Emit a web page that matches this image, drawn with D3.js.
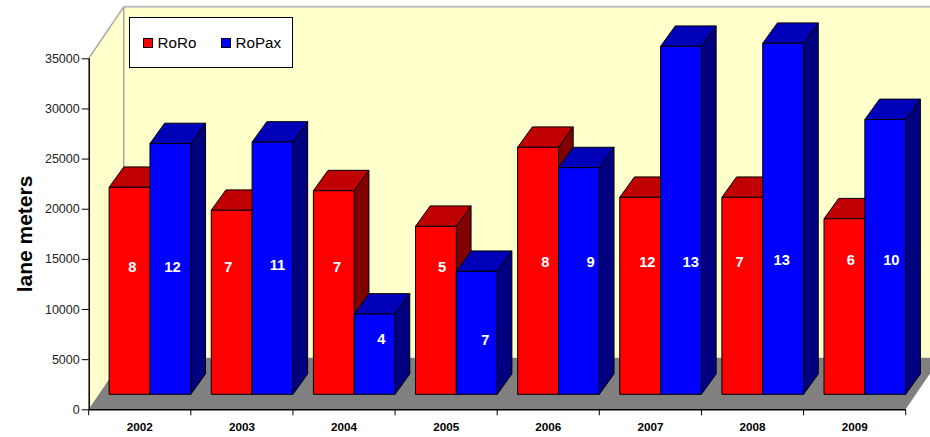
<!DOCTYPE html>
<html>
<head>
<meta charset="utf-8">
<script src="https://cdn.jsdelivr.net/npm/d3@7/dist/d3.min.js"></script>
<style>
html,body{margin:0;padding:0;background:#fff;overflow:hidden}
text{font-family:"Liberation Sans",Arial,sans-serif}
</style>
</head>
<body>
<svg id="chart" width="930" height="437"></svg>
<script>
const years = ["2002","2003","2004","2005","2006","2007","2008","2009"];
const seriesNames = ["RoRo","RoPax"];
const roroLength = [20640,18350,20300,16750,24630,19640,19640,17500];
const ropaxLength = [25000,25150,8000,12260,22600,34700,35000,27400];
const roroShips = [8,7,7,5,8,12,7,6];
const ropaxShips = [12,11,4,7,9,13,13,10];
// Heights at which the ship counts sit, in lane meters above the bar base
const roroCountLevel = [12763,12693,12763,12763,13192,13192,13192,13461];
const ropaxCountLevel = [12763,12892,5514,5484,13192,13192,13431,13461];
// Sideways nudges of the ship counts, as hand-placed in the drawing (px)
const roroCountNudge = [2.85,-3.3,3.2,6.1,7.35,7.2,-2.6,6.3];
const ropaxCountNudge = [2,4.9,6.75,8.6,11.8,9.7,-1.45,6.1];
const yTicks = [0,5000,10000,15000,20000,25000,30000,35000];

const frontFace = {RoRo:"#ff0000", RoPax:"#0000ff"};
const topFace = {RoRo:"#c00000", RoPax:"#0000b8"};
const sideFace = {RoRo:"#800000", RoPax:"#000080"};

const svg = d3.select("#chart");

const y = d3.scaleLinear().domain([0,35000]).range([409.3,58.3]);
const x = d3.scaleBand().domain(years).range([88.7,905.7]);
const inner = d3.scaleBand().domain(seriesNames)
  .range([x.bandwidth()*0.2, x.bandwidth()]);

// Oblique projection: wall depth and the shallower depth of the bar row
const wallDepth = {dx:35, dy:-51.5};
const barInset = {dx:0, dy:-15};
const barDepth = {dx:14.7, dy:-20.4};
const poly = pts => pts.map(p => p.join(",")).join(" ");

const x0 = x.range()[0], x1 = x.range()[1];
const yBase = y(0), yTop = y(35000);

// Back wall, side wall and floor
svg.append("polygon").attr("fill","#ffffcc")
  .attr("points", poly([[x0,yBase],[x0,yTop],[x0+wallDepth.dx,yTop+wallDepth.dy],
    [960,yTop+wallDepth.dy],[960,yBase+wallDepth.dy],[x0+wallDepth.dx,yBase+wallDepth.dy]]));
svg.append("polygon").attr("fill","#808080")
  .attr("points", poly([[x0,yBase],[x0+wallDepth.dx,yBase+wallDepth.dy],
    [x1+wallDepth.dx,yBase+wallDepth.dy],[x1,yBase]]));
svg.append("path").attr("fill","none").attr("stroke","#a6a6a6").attr("stroke-width",1.5)
  .attr("d", `M${x0},${yTop}L${x0+wallDepth.dx},${yTop+wallDepth.dy}`);
svg.append("path").attr("fill","none").attr("stroke","#bdbdbd").attr("stroke-width",2)
  .attr("d", `M${x0+wallDepth.dx},${yTop+wallDepth.dy}H930`);
svg.append("path").attr("fill","none").attr("stroke","#a6a6a6").attr("stroke-width",1.5)
  .attr("d", `M${x0+wallDepth.dx},${yTop+wallDepth.dy}V${yBase+wallDepth.dy}`);

// Bars, drawn left to right so that each one overlaps the previous side face
const records = years.flatMap((year,i) => [
  {year, name:"RoRo", value:roroLength[i], ships:roroShips[i], level:roroCountLevel[i], nudge:roroCountNudge[i]},
  {year, name:"RoPax", value:ropaxLength[i], ships:ropaxShips[i], level:ropaxCountLevel[i], nudge:ropaxCountNudge[i]}
]);
const base = yBase + barInset.dy;
const barTop = d => base - (yBase - y(d.value));
const bar = svg.append("g").selectAll("g").data(records).join("g")
  .attr("stroke","#000").attr("stroke-width",1).attr("stroke-linejoin","round");
const left = d => x(d.year) + inner(d.name);
const right = d => left(d) + inner.bandwidth();
bar.append("polygon").attr("fill",d => sideFace[d.name])
  .attr("points", d => poly([[right(d),base],[right(d),barTop(d)],
    [right(d)+barDepth.dx,barTop(d)+barDepth.dy],[right(d)+barDepth.dx,base+barDepth.dy]]));
bar.append("polygon").attr("fill",d => topFace[d.name])
  .attr("points", d => poly([[left(d),barTop(d)],[left(d)+barDepth.dx,barTop(d)+barDepth.dy],
    [right(d)+barDepth.dx,barTop(d)+barDepth.dy],[right(d),barTop(d)]]));
bar.append("rect").attr("fill",d => frontFace[d.name])
  .attr("x",left).attr("y",barTop)
  .attr("width",inner.bandwidth()).attr("height",d => base - barTop(d));

// Ship counts on the bar fronts
svg.append("g").selectAll("text").data(records).join("text")
  .attr("x",d => left(d) + inner.bandwidth()/2 + d.nudge)
  .attr("y",d => base - (yBase - y(d.level)))
  .attr("dy","0.36em").attr("text-anchor","middle")
  .attr("fill","#fff").attr("font-size",14.7).attr("font-weight","bold")
  .text(d => d.ships);

// Axes along the front edge of the floor
const yAxis = svg.append("g").attr("transform",`translate(${x0},0)`)
  .call(d3.axisLeft(y).tickValues(yTicks).tickSize(7).tickPadding(2).tickFormat(d3.format("d")));
yAxis.selectAll("text").attr("font-size",12.5).attr("fill","#222").style("font-family","'Liberation Sans',Arial,sans-serif");
yAxis.select(".domain").attr("d",`M0.5,${yTop}V${yBase}`).attr("stroke","#000").attr("stroke-width",1.5);

const xAxis = svg.append("g").attr("transform",`translate(0,${yBase})`)
  .call(d3.axisBottom(x).tickSize(0).tickPadding(13));
xAxis.selectAll("text").attr("font-size",11.7).attr("font-weight","bold").attr("fill","#000")
  .style("font-family","'Liberation Sans',Arial,sans-serif");
xAxis.select(".domain").attr("d",`M${x0},0.5H${x1}`).attr("stroke","#000").attr("stroke-width",1.5);
xAxis.selectAll(".edge").data(x.domain().map(d => x(d)).concat(x1)).join("line")
  .attr("class","edge").attr("x1",d => d).attr("x2",d => d).attr("y1",0).attr("y2",6)
  .attr("stroke","#000");

// Axis title
svg.append("text").attr("transform","translate(31.5,234) rotate(-90)")
  .attr("text-anchor","middle").attr("font-size",21).attr("font-weight","bold")
  .attr("fill","#000").text("lane meters");

// Legend
const legend = svg.append("g");
legend.append("rect").attr("x",129.5).attr("y",17.5).attr("width",163).attr("height",50)
  .attr("fill","#fff").attr("stroke","#000");
const legendX = d3.scalePoint().domain(seriesNames).range([143.5,221.5]);
const entry = legend.selectAll("g").data(seriesNames).join("g")
  .attr("transform",d => `translate(${legendX(d)},38.5)`);
entry.append("rect").attr("width",9).attr("height",9)
  .attr("fill",d => frontFace[d]).attr("stroke","#000");
entry.append("text").attr("x",14).attr("y",9.5).attr("font-size",15.2).attr("fill","#000").text(d => d);
</script>
</body>
</html>
